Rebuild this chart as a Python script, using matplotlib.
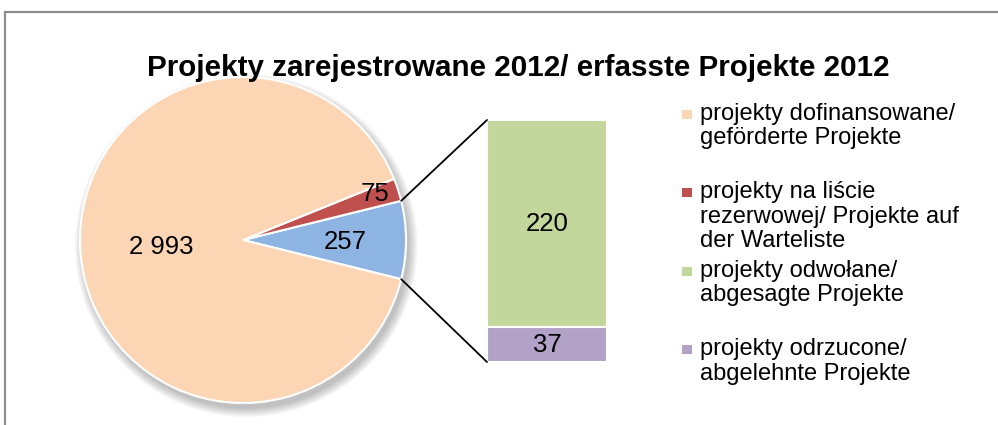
import numpy as np
import matplotlib
matplotlib.use('Agg')
import matplotlib.pyplot as plt
from matplotlib.patches import Circle, Rectangle, ConnectionPatch

plt.rcParams['font.family'] = ['Liberation Sans', 'DejaVu Sans']

# data
title = 'Projekty zarejestrowane 2012/ erfasste Projekte 2012'
pie_names = ['projekty dofinansowane/\ngeförderte Projekte',
             'projekty na liście\nrezerwowej/ Projekte auf\nder Warteliste']
pie_values = [2993, 75]
bar_names = ['projekty odwołane/\nabgesagte Projekte',
             'projekty odrzucone/\nabgelehnte Projekte']
bar_values = [220, 37]
pie_colors = ['#FCD5B5', '#C0504D']
bar_colors = ['#C3D69B', '#B3A2C7']
other_color = '#8DB4E2'

W, H = 998, 425
fig = plt.figure(figsize=(W / 100, H / 100), dpi=100)

# outer frame (cut off on the right and bottom like the source)
fig.patches.append(Rectangle((4.5 / W, -0.05), 1.1, 1 - 12 / H + 0.05,
                             transform=fig.transFigure, fill=False,
                             edgecolor='#8e8e8e', lw=1.6))

fig.text(518 / W, 1 - 68 / H, title, ha='center', va='center',
         fontsize=21.3, fontweight='bold')

# pie part
ax = fig.add_axes([80 / W, 22 / H, 326 / W, 326 / H])
other = sum(bar_values)
vals = [other, pie_values[1], pie_values[0]]
cols = [other_color, pie_colors[1], pie_colors[0]]
total = sum(vals)
start = -other / total * 180

# soft shadow under the pie
for k in range(6):
    ax.add_patch(Circle((0.02, -0.035), 1.0 + k * 0.01, color='black',
                        alpha=0.045, zorder=0, clip_on=False, lw=0))

wedges, _ = ax.pie(vals, colors=cols, startangle=start, counterclock=True,
                   radius=1.0, wedgeprops=dict(edgecolor='white', linewidth=1.5))
for w in wedges:
    w.set_zorder(2)
    w.set_clip_on(False)
ax.set_xlim(-1, 1)
ax.set_ylim(-1, 1)
ax.set_aspect('equal')
ax.axis('off')

# labels inside the pie
mids = [np.radians((w.theta1 + w.theta2) / 2) for w in wedges]
ax.text(0.63 * np.cos(mids[0]), 0.63 * np.sin(mids[0]) - 0.01,
        str(other), ha='center', va='center', fontsize=18.5, zorder=3)
ax.text(0.85 * np.cos(mids[1]), 0.85 * np.sin(mids[1]) + 0.02,
        str(pie_values[1]), ha='center', va='center', fontsize=18.5, zorder=3)
ax.text(-0.50, -0.045, '{:,}'.format(pie_values[0]).replace(',', ' '),
        ha='center', va='center', fontsize=18.5, zorder=3)

# bar part
bx = fig.add_axes([487 / W, 63 / H, 120 / W, 242 / H])
bottoms = [bar_values[1], 0]
for v, b, c in zip(bar_values, bottoms, bar_colors):
    bars = bx.bar([0], [v], bottom=b, width=1.0, color=c,
                  edgecolor='white', linewidth=1.5)
    bx.bar_label(bars, labels=[str(v)], label_type='center', fontsize=18.5)
bx.set_xlim(-0.5, 0.5)
bx.set_ylim(0, other)
bx.axis('off')

# connector lines
th1 = np.radians(wedges[0].theta1)
th2 = np.radians(wedges[0].theta2)
for th, yb in [(th2, other), (th1, 0)]:
    con = ConnectionPatch(xyA=(np.cos(th), np.sin(th)), coordsA=ax.transData,
                          xyB=(-0.5, yb), coordsB=bx.transData,
                          color='black', lw=1.3)
    fig.add_artist(con)

# legend drawn by hand to keep Excel-like spacing
names = pie_names + bar_names
colors = pie_colors + bar_colors
y0, step = 114, 78.5
for i, (n, c) in enumerate(zip(names, colors)):
    yc = y0 + i * step
    fig.patches.append(Rectangle((682 / W, 1 - (yc + 4.5) / H), 10 / W, 9 / H,
                                 transform=fig.transFigure, color=c, lw=0))
    fig.text(700 / W, 1 - (yc - 11) / H, n, ha='left', va='top',
             fontsize=17, linespacing=1.12)

fig.savefig('out.png', dpi=100)
